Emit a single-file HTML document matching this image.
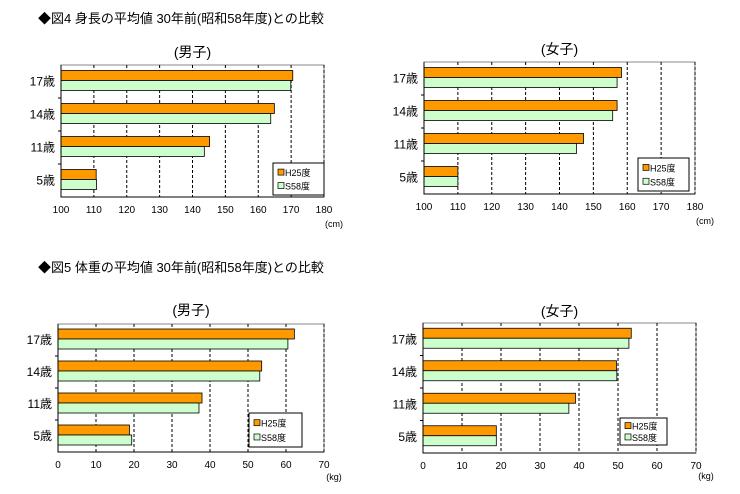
<!DOCTYPE html>
<html><head><meta charset="utf-8"><style>
body{margin:0;background:#fff;width:740px;height:489px;overflow:hidden;font-family:"Liberation Sans","Noto Sans CJK JP",sans-serif;}
svg text{font-family:"Liberation Sans","Noto Sans CJK JP",sans-serif;}
</style></head><body>
<svg id="root" width="740" height="489" viewBox="0 0 740 489">
<text x="38" y="23" font-size="13" fill="#000">◆図4 身長の平均値 30年前(昭和58年度)との比較</text>
<text x="38" y="272" font-size="13" fill="#000">◆図5 体重の平均値 30年前(昭和58年度)との比較</text>
</svg>
<script>
const categories=["17歳","14歳","11歳","5歳"];
const hBoysH25=[170.5,164.9,145.2,110.7];
const hBoysS58=[169.9,163.8,143.6,110.8];
const hGirlsH25=[158.3,157.0,147.1,110.0];
const hGirlsS58=[157.0,155.7,145.0,110.0];
const wBoysH25=[62.2,53.6,37.9,18.8];
const wBoysS58=[60.5,53.1,37.1,19.4];
const wGirlsH25=[53.4,49.6,39.1,18.8];
const wGirlsS58=[52.8,49.7,37.4,18.8];
const hTicks=["100","110","120","130","140","150","160","170","180"];
const wTicks=["0","10","20","30","40","50","60","70"];
const legendLabels=["H25度","S58度"];
const NS="http://www.w3.org/2000/svg";
const root=document.getElementById('root');
function mk(tag,attrs,parent){const e=document.createElementNS(NS,tag);for(const k in attrs)e.setAttribute(k,attrs[k]);parent.appendChild(e);return e;}
function chart(cfg){
  const g=mk('g',{},root);
  
  
  const min=+cfg.ticks[0],max=+cfg.ticks[cfg.ticks.length-1];
  const xs=v=>cfg.l+(v-min)/(max-min)*(cfg.r-cfg.l);
  const band=(cfg.b-cfg.t)/categories.length;
  const t=mk('text',{x:(cfg.l+cfg.r)/2,y:cfg.titleY,'font-size':14,'text-anchor':'middle'},g);
  t.textContent=cfg.title;
  
  
  const frame=mk('rect',{x:cfg.l,y:cfg.t,width:cfg.r-cfg.l,height:cfg.b-cfg.t,fill:'#fff',stroke:'#888','stroke-width':1},g);
  
  
  cfg.ticks.forEach((lab,i)=>{
    const x=xs(+lab);
    if(i>0){const gl=mk('line',{x1:x,x2:x,y1:cfg.t,y2:cfg.b,stroke:'#000','stroke-dasharray':'3,2','stroke-width':1},g);
      
      }
    const tl=mk('text',{x:x,y:cfg.b+16,'font-size':10,'text-anchor':'middle'},g);
    tl.textContent=lab;
    
    
  });
  const u=mk('text',{x:cfg.r+10,y:cfg.unitY,'font-size':9,'text-anchor':'middle'},g);
  u.textContent=cfg.unit;
  
  
  categories.forEach((c,i)=>{
    const y0=cfg.t+band*i;
    if(i>0){const tk=mk('line',{x1:cfg.l-3,x2:cfg.l,y1:y0,y2:y0,stroke:'#000'},g);
      
      }
    const cy=y0+band/2-1;
    const cl=mk('text',{x:cfg.l-6,y:cy+5,'font-size':12,'text-anchor':'end'},g);
    cl.textContent=c;
    
    
    const b1=mk('rect',{x:cfg.l,y:cy-10,width:xs(cfg.a[i])-cfg.l,height:10,fill:'#ff9900',stroke:'#000','stroke-width':0.8},g);
    
    
    const b2=mk('rect',{x:cfg.l,y:cy,width:xs(cfg.s[i])-cfg.l,height:10,fill:'#ccffcc',stroke:'#000','stroke-width':0.8},g);
    
    
  });
  const ax=mk('path',{d:`M${cfg.l},${cfg.t}V${cfg.b}H${cfg.r}`,fill:'none',stroke:'#000'},g);
  
  
  const L=cfg.leg;
  const lg=mk('g',{},g);
  
  
  mk('rect',{x:L[0],y:L[1],width:L[2],height:L[3],fill:'#fff',stroke:'#000'},lg);
  [['#ff9900'],['#ccffcc']].forEach((col,j)=>{
    const yy=L[1]+L[3]*(j===0?0.3:0.72);
    const sw=mk('rect',{x:L[0]+5,y:yy-3.5,width:6,height:6,fill:col[0],stroke:'#000','stroke-width':0.7},lg);
    
    
    const lt=mk('text',{x:L[0]+12,y:yy+3.5,'font-size':9},lg);
    lt.textContent=legendLabels[j];
    
    
  });
}
chart({name:'chart-height-boys',title:'(男子)',titleY:57,l:61,r:324,t:65,b:197,ticks:hTicks,a:hBoysH25,s:hBoysS58,unit:'(cm)',unitY:227,leg:[273,163,51,32]});
chart({name:'chart-height-girls',title:'(女子)',titleY:54,l:424,r:695,t:62,b:194,ticks:hTicks,a:hGirlsH25,s:hGirlsS58,unit:'(cm)',unitY:224,leg:[638,158,51,33]});
chart({name:'chart-weight-boys',title:'(男子)',titleY:315,l:58,r:324,t:324,b:452,ticks:wTicks,a:wBoysH25,s:wBoysS58,unit:'(kg)',unitY:480,leg:[249,413,53,34]});
chart({name:'chart-weight-girls',title:'(女子)',titleY:316,l:423,r:696,t:323,b:453,ticks:wTicks,a:wGirlsH25,s:wGirlsS58,unit:'(kg)',unitY:479,leg:[620,418,47,27]});
</script>
</body></html>
